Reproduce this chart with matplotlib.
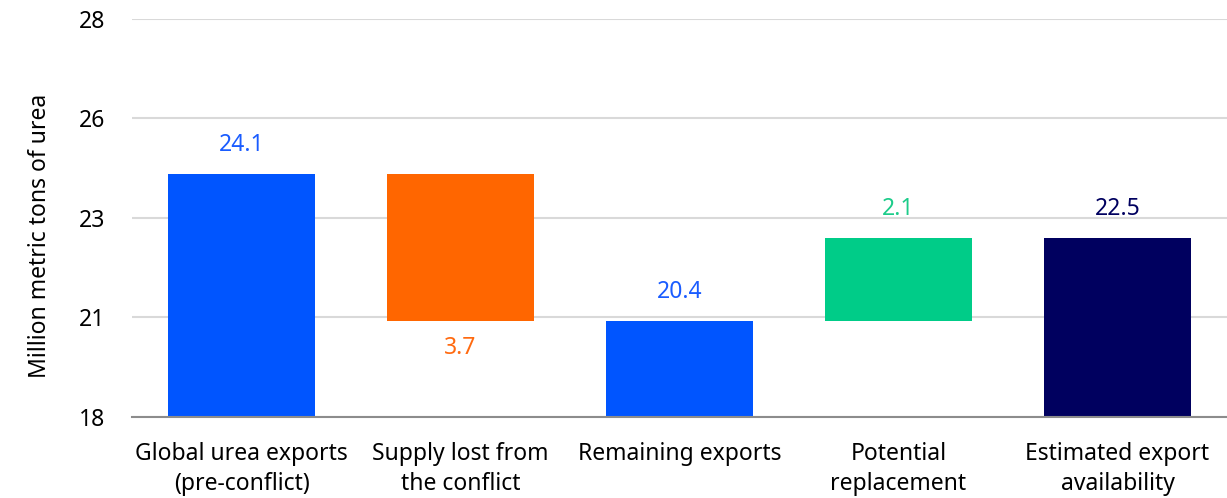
import numpy as np
import matplotlib.pyplot as plt

plt.rcParams['font.family'] = ['Noto Sans', 'DejaVu Sans']

categories = ['Global urea exports\n(pre-conflict)', 'Supply lost from\nthe conflict',
              'Remaining exports', 'Potential\nreplacement', 'Estimated export\navailability']
value_labels = ['24.1', '3.7', '20.4', '2.1', '22.5']
bar_bottoms = [18.0, 20.4, 18.0, 20.4, 18.0]
bar_tops = [24.1, 24.1, 20.4, 22.5, 22.5]
colors = ['#0055ff', '#ff6600', '#0055ff', '#00cc88', '#00005f']
label_colors = ['#1a5cff', '#ff6a10', '#1a5cff', '#1ccc8a', '#00005f']
y_ticks = [18, 20.5, 23, 25.5, 28]
y_tick_labels = ['18', '21', '23', '26', '28']

fig = plt.figure(figsize=(12.27, 4.98), dpi=100)
ax = fig.add_axes([0.1076, 0.1627, 0.8924, 0.7993])

x = np.arange(len(categories))
heights = np.array(bar_tops) - np.array(bar_bottoms)
ax.bar(x, heights, bottom=bar_bottoms, width=0.67, color=colors, zorder=3)

for i in range(len(x)):
    if i == 1:
        # decrease bar: label sits below the bar
        ax.annotate(value_labels[i], (x[i], bar_bottoms[i]), xytext=(0, -19),
                    textcoords='offset points', ha='center', va='center',
                    fontsize=16.5, color=label_colors[i])
    else:
        ax.annotate(value_labels[i], (x[i], bar_tops[i]), xytext=(0, 21),
                    textcoords='offset points', ha='center', va='center',
                    fontsize=16.5, color=label_colors[i])

ax.set_xlim(-0.5, 4.5)
ax.set_ylim(18, 28)
ax.set_yticks(y_ticks)
ax.set_yticklabels(y_tick_labels)
ax.set_xticks(x)
ax.set_xticklabels(categories, fontsize=16.5, linespacing=1.35)
ax.tick_params(axis='y', length=0, pad=19, labelsize=16.5)
ax.tick_params(axis='x', length=0, pad=18)
ax.set_ylabel('Million metric tons of urea', fontsize=16.5, labelpad=14)
ax.yaxis.set_label_coords(-0.0735, 0.455)

ax.grid(axis='y', color='#d9d9d9', linewidth=1.5, zorder=0)
for s in ['top', 'right', 'left']:
    ax.spines[s].set_visible(False)
ax.spines['bottom'].set_color('#8c8c8c')
ax.spines['bottom'].set_linewidth(1.5)
ax.spines['bottom'].set_zorder(4)

fig.savefig('out.png', dpi=100)
